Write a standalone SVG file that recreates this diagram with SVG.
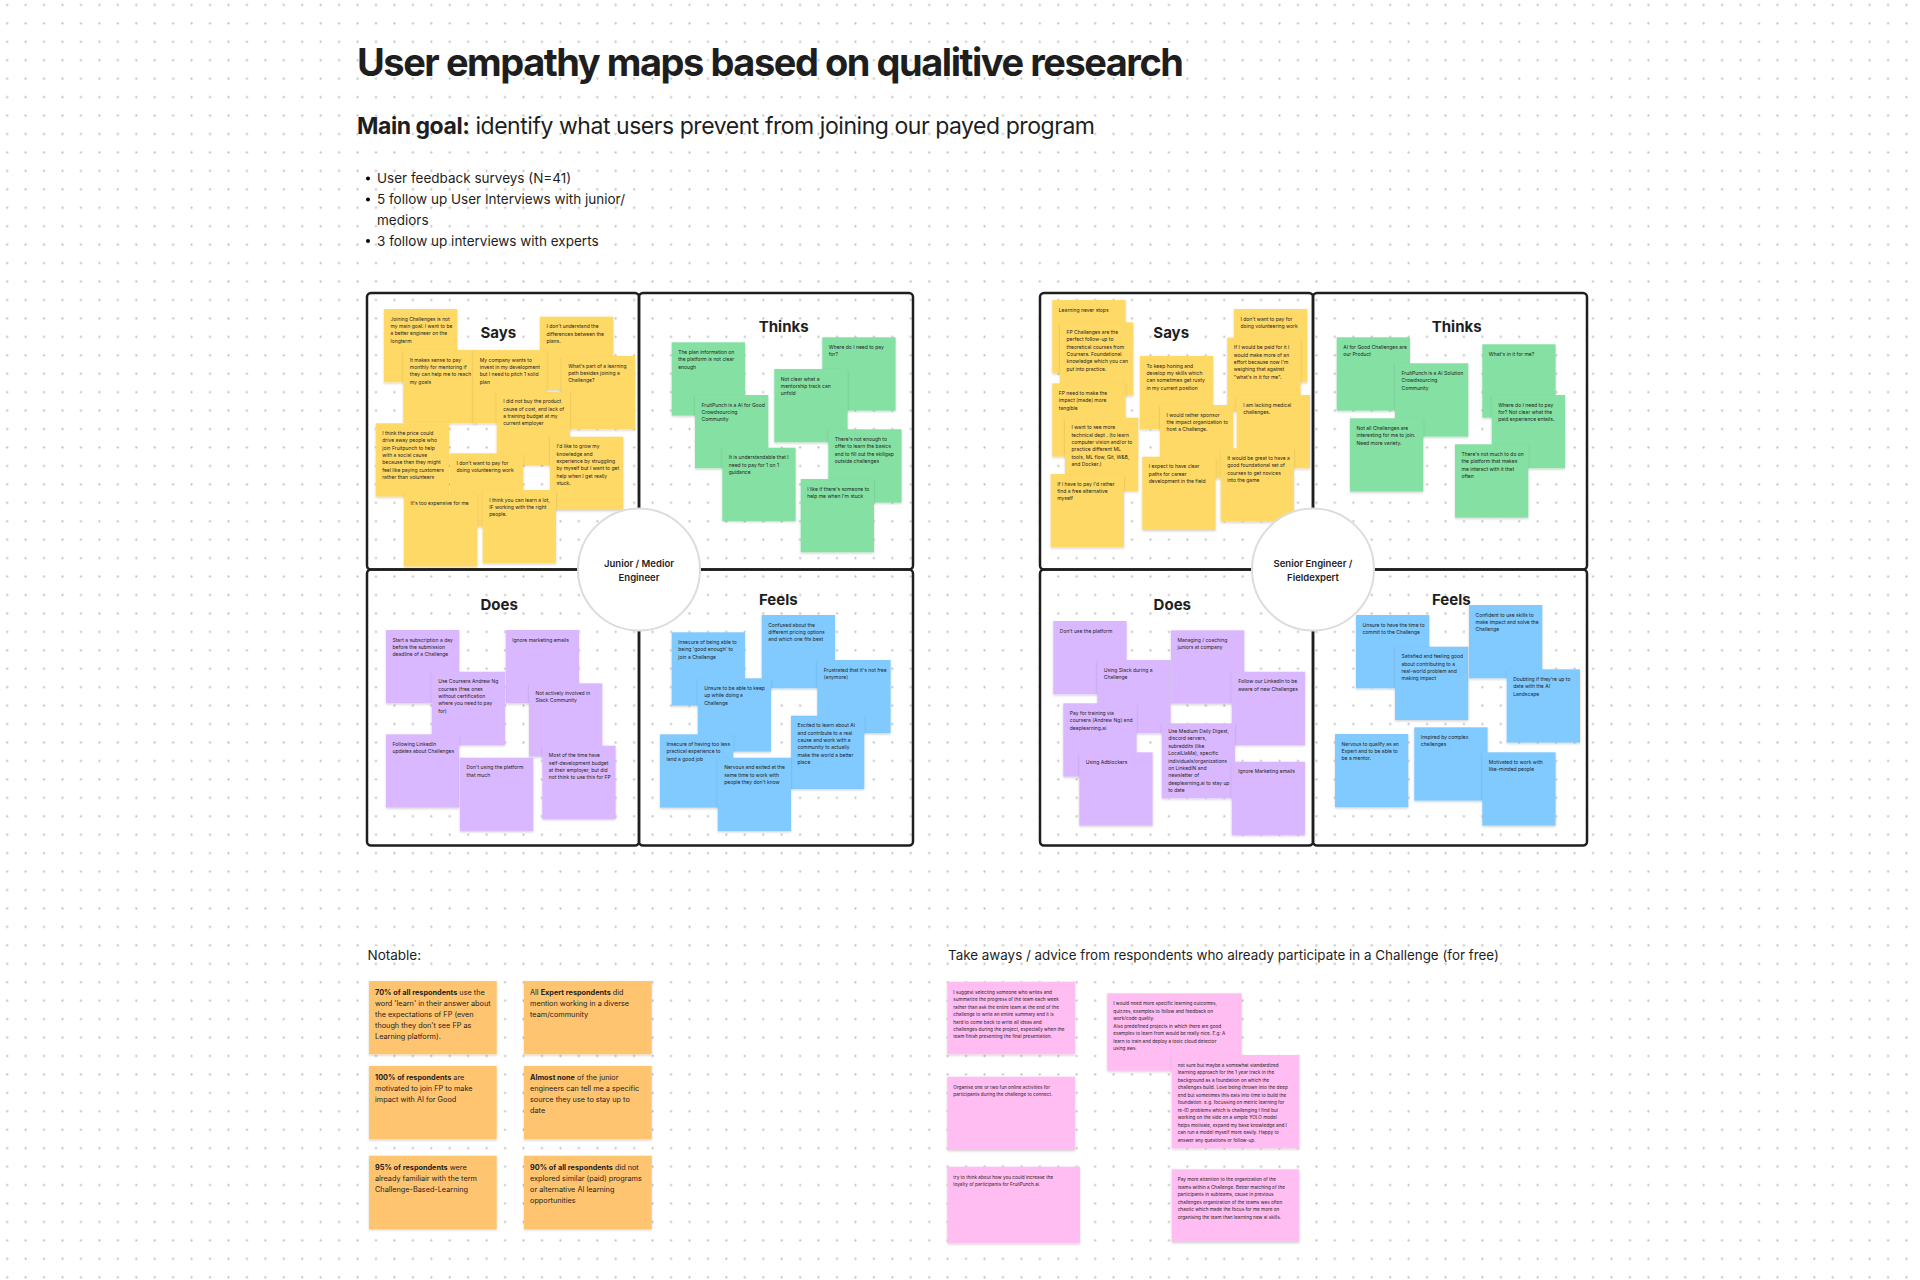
<svg xmlns="http://www.w3.org/2000/svg" width="1920" height="1280" viewBox="0 0 1920 1280">
<defs>
<pattern id="dots" x="-2.02" y="-4.26" width="18.44" height="18.44" patternUnits="userSpaceOnUse"><circle cx="9.22" cy="9.22" r="1.1" fill="#bfbfbf"/></pattern>
<filter id="sh" x="-10%" y="-10%" width="130%" height="140%"><feDropShadow dx="0" dy="1.2" stdDeviation="1.2" flood-color="#000" flood-opacity="0.18"/></filter>
</defs>
<style>
text{font-family:Inter,"Noto Sans","Liberation Sans",sans-serif;fill:#1e1e1e}
.t{font-size:5px}
.n{font-size:7.3px}
.k2{font-size:4.7px}
.y{fill:#FFD966;filter:url(#sh)}
.g{fill:#85E0A3;filter:url(#sh)}
.p{fill:#D9B8FF;filter:url(#sh)}
.b{fill:#80CAFF;filter:url(#sh)}
.o{fill:#FFC470;filter:url(#sh)}
.k{fill:#FFBDF2;filter:url(#sh)}
.quad{fill:none;stroke:#1e1e1e;stroke-width:2.5}
.qt{font-size:15px;font-weight:700;text-anchor:middle}
.ct{font-size:9.5px;font-weight:600;text-anchor:middle}
.hub{fill:#fff;stroke:#dcdcdc;stroke-width:2}
.bd{font-weight:700}
</style>
<rect width="1920" height="1280" fill="#fff"/>
<rect width="1920" height="1280" fill="url(#dots)"/>

<g id="header">
<text x="357" y="76" font-size="38" font-weight="700" textLength="827">User empathy maps based on qualitive research</text>
<text x="357" y="133.5" font-size="23" textLength="738"><tspan font-weight="700">Main goal:</tspan> identify what users prevent from joining our payed program</text>
<g font-size="13.5">
<circle cx="368" cy="178.5" r="2"/><text x="377" y="183">User feedback surveys (N=41)</text>
<circle cx="368" cy="199.5" r="2"/><text x="377" y="204">5 follow up User Interviews with junior/</text>
<text x="377" y="224.5">mediors</text>
<circle cx="368" cy="241" r="2"/><text x="377" y="245.5">3 follow up interviews with experts</text>
</g>
</g>

<!-- Junior map -->
<g id="junior-map">
<rect class="quad" x="367" y="293" width="272" height="276.5" rx="4"/>
<rect class="quad" x="639" y="293" width="274" height="276.5" rx="4"/>
<rect class="quad" x="367" y="569.5" width="272" height="276" rx="4"/>
<rect class="quad" x="639" y="569.5" width="274" height="276" rx="4"/>
<text class="qt" x="498.3" y="338">Says</text>
<text class="qt" x="783.7" y="332.4">Thinks</text>
<text class="qt" x="499.2" y="610.4">Does</text>
<text class="qt" x="778.3" y="605.4">Feels</text>
</g>

<g id="js1"><rect class="y" x="384" y="309" width="73.3" height="73.3"/><text class="t" x="390.5" y="320.5"><tspan x="390.5">Joining Challenges is not</tspan><tspan x="390.5" dy="7.4">my main goal: I want to be</tspan><tspan x="390.5" dy="7.4">a better engineer on the</tspan><tspan x="390.5" dy="7.4">longterm</tspan></text></g>
<g id="js2"><rect class="y" x="540" y="316.7" width="73.3" height="73.3"/><text class="t" x="546.5" y="328.2"><tspan x="546.5">I don't understand the</tspan><tspan x="546.5" dy="7.4">differences between the</tspan><tspan x="546.5" dy="7.4">plans.</tspan></text></g>
<g id="js3"><rect class="y" x="403.3" y="350" width="73.3" height="73.3"/><text class="t" x="409.8" y="361.5"><tspan x="409.8">It makes sense to pay</tspan><tspan x="409.8" dy="7.4">monthly for mentoring if</tspan><tspan x="409.8" dy="7.4">they can help me to reach</tspan><tspan x="409.8" dy="7.4">my goals</tspan></text></g>
<g id="js4"><rect class="y" x="473.3" y="350" width="73.3" height="73.3"/><text class="t" x="479.8" y="361.5"><tspan x="479.8">My company wants to</tspan><tspan x="479.8" dy="7.4">invest in my development</tspan><tspan x="479.8" dy="7.4">but I need to pitch 1 solid</tspan><tspan x="479.8" dy="7.4">plan</tspan></text></g>
<g id="js5"><rect class="y" x="561.7" y="356" width="73.3" height="73.3"/><text class="t" x="568.2" y="367.5"><tspan x="568.2">What's part of a learning</tspan><tspan x="568.2" dy="7.4">path besides joining a</tspan><tspan x="568.2" dy="7.4">Challenge?</tspan></text></g>
<g id="js6"><rect class="y" x="496.7" y="391.7" width="73.3" height="73.3"/><text class="t" x="503.2" y="403.2"><tspan x="503.2">I did not buy the product</tspan><tspan x="503.2" dy="7.4">cause of cost, and lack of</tspan><tspan x="503.2" dy="7.4">a training budget at my</tspan><tspan x="503.2" dy="7.4">current employer</tspan></text></g>
<g id="js7"><rect class="y" x="375.7" y="423.3" width="73.3" height="73.3"/><text class="t" x="382.2" y="434.8"><tspan x="382.2">I think the price could</tspan><tspan x="382.2" dy="7.4">drive away people who</tspan><tspan x="382.2" dy="7.4">join Fruitpunch to help</tspan><tspan x="382.2" dy="7.4">with a social cause</tspan><tspan x="382.2" dy="7.4">because then they might</tspan><tspan x="382.2" dy="7.4">feel like paying customers</tspan><tspan x="382.2" dy="7.4">rather than volunteers</tspan></text></g>
<g id="js8"><rect class="y" x="450" y="453.3" width="73.3" height="73.3"/><text class="t" x="456.5" y="464.8"><tspan x="456.5">I don't want to pay for</tspan><tspan x="456.5" dy="7.4">doing volunteering work</tspan></text></g>
<g id="js9"><rect class="y" x="550" y="436.7" width="73.3" height="73.3"/><text class="t" x="556.5" y="448.2"><tspan x="556.5">I'd like to grow my</tspan><tspan x="556.5" dy="7.4">knowledge and</tspan><tspan x="556.5" dy="7.4">experience by struggling</tspan><tspan x="556.5" dy="7.4">by myself but I want to get</tspan><tspan x="556.5" dy="7.4">help when I get really</tspan><tspan x="556.5" dy="7.4">stuck.</tspan></text></g>
<g id="js10"><rect class="y" x="404" y="493.3" width="73.3" height="73.3"/><text class="t" x="410.5" y="504.8">It's too expensive for me</text></g>
<g id="js11"><rect class="y" x="482.7" y="490" width="73.3" height="73.3"/><text class="t" x="489.2" y="501.5"><tspan x="489.2">I think you can learn a lot,</tspan><tspan x="489.2" dy="7.4">IF working with the right</tspan><tspan x="489.2" dy="7.4">people.</tspan></text></g>

<g id="jt1"><rect class="g" x="671.7" y="342.3" width="73.3" height="73.3"/><text class="t" x="678.2" y="353.8"><tspan x="678.2">The plan information on</tspan><tspan x="678.2" dy="7.4">the platform is not clear</tspan><tspan x="678.2" dy="7.4">enough</tspan></text></g>
<g id="jt4"><rect class="g" x="695" y="395" width="73.3" height="73.3"/><text class="t" x="701.5" y="406.5"><tspan x="701.5">FruitPunch is a AI for Good</tspan><tspan x="701.5" dy="7.4">Crowdsourcing</tspan><tspan x="701.5" dy="7.4">Community</tspan></text></g>
<g id="jt6"><rect class="g" x="722.3" y="447.7" width="73.3" height="73.3"/><text class="t" x="728.8" y="459.2"><tspan x="728.8">It is understandable that I</tspan><tspan x="728.8" dy="7.4">need to pay for 1 on 1</tspan><tspan x="728.8" dy="7.4">guidance</tspan></text></g>
<g id="jt2"><rect class="g" x="822.3" y="337.3" width="73.3" height="73.3"/><text class="t" x="828.8" y="348.8"><tspan x="828.8">Where do I need to pay</tspan><tspan x="828.8" dy="7.4">for?</tspan></text></g>
<g id="jt3"><rect class="g" x="774.3" y="369" width="73.3" height="73.3"/><text class="t" x="780.8" y="380.5"><tspan x="780.8">Not clear what a</tspan><tspan x="780.8" dy="7.4">mentorship track can</tspan><tspan x="780.8" dy="7.4">unfold</tspan></text></g>
<g id="jt5"><rect class="g" x="828.3" y="429.3" width="73.3" height="73.3"/><text class="t" x="834.8" y="440.8"><tspan x="834.8">There's not enough to</tspan><tspan x="834.8" dy="7.4">offer to learn the basics</tspan><tspan x="834.8" dy="7.4">and to fill out the skillgap</tspan><tspan x="834.8" dy="7.4">outside challenges</tspan></text></g>
<g id="jt7"><rect class="g" x="800.7" y="479" width="73.3" height="73.3"/><text class="t" x="807.2" y="490.5"><tspan x="807.2">I like if there's someone to</tspan><tspan x="807.2" dy="7.4">help me when I'm stuck</tspan></text></g>

<g id="jd1"><rect class="p" x="386" y="630" width="73.3" height="73.3"/><text class="t" x="392.5" y="641.5"><tspan x="392.5">Start a subscription a day</tspan><tspan x="392.5" dy="7.4">before the submission</tspan><tspan x="392.5" dy="7.4">deadline of a Challenge</tspan></text></g>
<g id="jd2"><rect class="p" x="505.7" y="630" width="73.3" height="73.3"/><text class="t" x="512.2" y="641.5">Ignore marketing emails</text></g>
<g id="jd3"><rect class="p" x="431.7" y="671.7" width="73.3" height="73.3"/><text class="t" x="438.2" y="683.2"><tspan x="438.2">Use Coursera Andrew Ng</tspan><tspan x="438.2" dy="7.4">courses (free ones</tspan><tspan x="438.2" dy="7.4">without certification</tspan><tspan x="438.2" dy="7.4">where you need to pay</tspan><tspan x="438.2" dy="7.4">for)</tspan></text></g>
<g id="jd4"><rect class="p" x="529" y="683.3" width="73.3" height="73.3"/><text class="t" x="535.5" y="694.8"><tspan x="535.5">Not actively involved in</tspan><tspan x="535.5" dy="7.4">Slack Community</tspan></text></g>
<g id="jd5"><rect class="p" x="386" y="734.3" width="73.3" height="73.3"/><text class="t" x="392.5" y="745.8"><tspan x="392.5">Following LinkedIn</tspan><tspan x="392.5" dy="7.4">updates about Challenges</tspan></text></g>
<g id="jd6"><rect class="p" x="460" y="757.7" width="73.3" height="73.3"/><text class="t" x="466.5" y="769.2"><tspan x="466.5">Don't using the platform</tspan><tspan x="466.5" dy="7.4">that much</tspan></text></g>
<g id="jd7"><rect class="p" x="542.3" y="745.7" width="73.3" height="73.3"/><text class="t" x="548.8" y="757.2"><tspan x="548.8">Most of the time have</tspan><tspan x="548.8" dy="7.4">self-development budget</tspan><tspan x="548.8" dy="7.4">at their employer, but did</tspan><tspan x="548.8" dy="7.4">not think to use this for FP</tspan></text></g>

<g id="jf1"><rect class="b" x="671.7" y="632.3" width="73.3" height="73.3"/><text class="t" x="678.2" y="643.8"><tspan x="678.2">Insecure of being able to</tspan><tspan x="678.2" dy="7.4">being 'good enough' to</tspan><tspan x="678.2" dy="7.4">join a Challenge</tspan></text></g>
<g id="jf2"><rect class="b" x="761.7" y="615" width="73.3" height="73.3"/><text class="t" x="768.2" y="626.5"><tspan x="768.2">Confused about the</tspan><tspan x="768.2" dy="7.4">different pricing options</tspan><tspan x="768.2" dy="7.4">and which one fits best</tspan></text></g>
<g id="jf4"><rect class="b" x="697.7" y="678.3" width="73.3" height="73.3"/><text class="t" x="704.2" y="689.8"><tspan x="704.2">Unsure to be able to keep</tspan><tspan x="704.2" dy="7.4">up while doing a</tspan><tspan x="704.2" dy="7.4">Challenge</tspan></text></g>
<g id="jf3"><rect class="b" x="817.3" y="660" width="73.3" height="73.3"/><text class="t" x="823.8" y="671.5"><tspan x="823.8">Frustrated that it's not free</tspan><tspan x="823.8" dy="7.4">(anymore)</tspan></text></g>
<g id="jf5"><rect class="b" x="791" y="715.7" width="73.3" height="73.3"/><text class="t" x="797.5" y="727.2"><tspan x="797.5">Excited to learn about AI</tspan><tspan x="797.5" dy="7.4">and contribute to a real</tspan><tspan x="797.5" dy="7.4">cause and work with a</tspan><tspan x="797.5" dy="7.4">community to actually</tspan><tspan x="797.5" dy="7.4">make the world a better</tspan><tspan x="797.5" dy="7.4">place</tspan></text></g>
<g id="jf6"><rect class="b" x="660" y="734.3" width="73.3" height="73.3"/><text class="t" x="666.5" y="745.8"><tspan x="666.5">Insecure of having too less</tspan><tspan x="666.5" dy="7.4">practical experience to</tspan><tspan x="666.5" dy="7.4">land a good job</tspan></text></g>
<g id="jf7"><rect class="b" x="717.7" y="757.7" width="73.3" height="73.3"/><text class="t" x="724.2" y="769.2"><tspan x="724.2">Nervous and exited at the</tspan><tspan x="724.2" dy="7.4">same time to work with</tspan><tspan x="724.2" dy="7.4">people they don't know</tspan></text></g>

<g id="junior-hub"><circle class="hub" cx="639" cy="569.5" r="61"/><text class="ct" x="639" y="566.5">Junior / Medior</text><text class="ct" x="639" y="581">Engineer</text></g>

<!-- Senior map -->
<g id="senior-map">
<rect class="quad" x="1040" y="293" width="273" height="276.5" rx="4"/>
<rect class="quad" x="1313" y="293" width="274" height="276.5" rx="4"/>
<rect class="quad" x="1040" y="569.5" width="273" height="276" rx="4"/>
<rect class="quad" x="1313" y="569.5" width="274" height="276" rx="4"/>
<text class="qt" x="1171.2" y="338">Says</text>
<text class="qt" x="1456.7" y="332.4">Thinks</text>
<text class="qt" x="1172.3" y="610.4">Does</text>
<text class="qt" x="1451.3" y="605.4">Feels</text>
</g>

<g id="ss1"><rect class="y" x="1052.3" y="300" width="73.3" height="73.3"/><text class="t" x="1058.8" y="311.5">Learning never stops</text></g>
<g id="ss2"><rect class="y" x="1060" y="322.3" width="73.3" height="73.3"/><text class="t" x="1066.5" y="333.8"><tspan x="1066.5">FP Challenges are the</tspan><tspan x="1066.5" dy="7.4">perfect follow-up to</tspan><tspan x="1066.5" dy="7.4">theoretical courses from</tspan><tspan x="1066.5" dy="7.4">Coursera. Foundational</tspan><tspan x="1066.5" dy="7.4">knowledge which you can</tspan><tspan x="1066.5" dy="7.4">put into practice.</tspan></text></g>
<g id="ss3"><rect class="y" x="1234" y="309" width="73.3" height="73.3"/><text class="t" x="1240.5" y="320.5"><tspan x="1240.5">I don't want to pay for</tspan><tspan x="1240.5" dy="7.4">doing volunteering work</tspan></text></g>
<g id="ss4"><rect class="y" x="1227.3" y="337.7" width="73.3" height="73.3"/><text class="t" x="1233.8" y="349.2"><tspan x="1233.8">If I would be paid for it I</tspan><tspan x="1233.8" dy="7.4">would make more of an</tspan><tspan x="1233.8" dy="7.4">effort because now I'm</tspan><tspan x="1233.8" dy="7.4">weighing that against</tspan><tspan x="1233.8" dy="7.4">"what's in it for me".</tspan></text></g>
<g id="ss5"><rect class="y" x="1140" y="356" width="73.3" height="73.3"/><text class="t" x="1146.5" y="367.5"><tspan x="1146.5">To keep honing and</tspan><tspan x="1146.5" dy="7.4">develop my skills which</tspan><tspan x="1146.5" dy="7.4">can sometimes get rusty</tspan><tspan x="1146.5" dy="7.4">in my current position</tspan></text></g>
<g id="ss6"><rect class="y" x="1052.3" y="383.3" width="73.3" height="73.3"/><text class="t" x="1058.8" y="394.8"><tspan x="1058.8">FP need to make the</tspan><tspan x="1058.8" dy="7.4">impact (made) more</tspan><tspan x="1058.8" dy="7.4">tangible</tspan></text></g>
<g id="ss7"><rect class="y" x="1236.7" y="395" width="73.3" height="73.3"/><text class="t" x="1243.2" y="406.5"><tspan x="1243.2">I am lacking medical</tspan><tspan x="1243.2" dy="7.4">challenges.</tspan></text></g>
<g id="ss8"><rect class="y" x="1160" y="405" width="73.3" height="73.3"/><text class="t" x="1166.5" y="416.5"><tspan x="1166.5">I would rather sponsor</tspan><tspan x="1166.5" dy="7.4">the impact organization to</tspan><tspan x="1166.5" dy="7.4">host a Challenge.</tspan></text></g>
<g id="ss9"><rect class="y" x="1065" y="417.7" width="73.3" height="73.3"/><text class="t" x="1071.5" y="429.2"><tspan x="1071.5">I want to see more</tspan><tspan x="1071.5" dy="7.4">technical dept . (to learn</tspan><tspan x="1071.5" dy="7.4">computer vision and/or to</tspan><tspan x="1071.5" dy="7.4">practice different ML</tspan><tspan x="1071.5" dy="7.4">tools, ML flow, Git, W&amp;B,</tspan><tspan x="1071.5" dy="7.4">and Docker.)</tspan></text></g>
<g id="ss10"><rect class="y" x="1220.7" y="448.3" width="73.3" height="73.3"/><text class="t" x="1227.2" y="459.8"><tspan x="1227.2">It would be great to have a</tspan><tspan x="1227.2" dy="7.4">good foundational set of</tspan><tspan x="1227.2" dy="7.4">courses to get novices</tspan><tspan x="1227.2" dy="7.4">into the game</tspan></text></g>
<g id="ss11"><rect class="y" x="1142.3" y="456.7" width="73.3" height="73.3"/><text class="t" x="1148.8" y="468.2"><tspan x="1148.8">I expect to have clear</tspan><tspan x="1148.8" dy="7.4">paths for career</tspan><tspan x="1148.8" dy="7.4">development in the field</tspan></text></g>
<g id="ss12"><rect class="y" x="1050.7" y="474" width="73.3" height="73.3"/><text class="t" x="1057.2" y="485.5"><tspan x="1057.2">If I have to pay I'd rather</tspan><tspan x="1057.2" dy="7.4">find a free alternative</tspan><tspan x="1057.2" dy="7.4">myself</tspan></text></g>

<g id="st1"><rect class="g" x="1336.7" y="337.3" width="73.3" height="73.3"/><text class="t" x="1343.2" y="348.8"><tspan x="1343.2">AI for Good Challenges are</tspan><tspan x="1343.2" dy="7.4">our Product</tspan></text></g>
<g id="st3"><rect class="g" x="1395" y="363.3" width="73.3" height="73.3"/><text class="t" x="1401.5" y="374.8"><tspan x="1401.5">FruitPunch is a AI Solution</tspan><tspan x="1401.5" dy="7.4">Crowdsourcing</tspan><tspan x="1401.5" dy="7.4">Community</tspan></text></g>
<g id="st5"><rect class="g" x="1350" y="418.3" width="73.3" height="73.3"/><text class="t" x="1356.5" y="429.8"><tspan x="1356.5">Not all Challenges are</tspan><tspan x="1356.5" dy="7.4">interesting for me to join.</tspan><tspan x="1356.5" dy="7.4">Need more variety.</tspan></text></g>
<g id="st2"><rect class="g" x="1482.3" y="344.3" width="73.3" height="73.3"/><text class="t" x="1488.8" y="355.8">What's in it for me?</text></g>
<g id="st4"><rect class="g" x="1491.7" y="395" width="73.3" height="73.3"/><text class="t" x="1498.2" y="406.5"><tspan x="1498.2">Where do I need to pay</tspan><tspan x="1498.2" dy="7.4">for? Not clear what the</tspan><tspan x="1498.2" dy="7.4">paid experience entails.</tspan></text></g>
<g id="st6"><rect class="g" x="1455" y="444.3" width="73.3" height="73.3"/><text class="t" x="1461.5" y="455.8"><tspan x="1461.5">There's not much to do on</tspan><tspan x="1461.5" dy="7.4">the platform that makes</tspan><tspan x="1461.5" dy="7.4">me interact with it that</tspan><tspan x="1461.5" dy="7.4">often</tspan></text></g>

<g id="sd1"><rect class="p" x="1053.3" y="621" width="73.3" height="73.3"/><text class="t" x="1059.8" y="632.5">Don't use the platform</text></g>
<g id="sd3"><rect class="p" x="1097.3" y="660" width="73.3" height="73.3"/><text class="t" x="1103.8" y="671.5"><tspan x="1103.8">Using Slack during a</tspan><tspan x="1103.8" dy="7.4">Challenge</tspan></text></g>
<g id="sd2"><rect class="p" x="1171" y="630.3" width="73.3" height="73.3"/><text class="t" x="1177.5" y="641.8"><tspan x="1177.5">Managing / coaching</tspan><tspan x="1177.5" dy="7.4">juniors at company</tspan></text></g>
<g id="sd4"><rect class="p" x="1231.7" y="671.7" width="73.3" height="73.3"/><text class="t" x="1238.2" y="683.2"><tspan x="1238.2">Follow our LinkedIn to be</tspan><tspan x="1238.2" dy="7.4">aware of new Challenges</tspan></text></g>
<g id="sd5"><rect class="p" x="1063.3" y="703.3" width="73.3" height="73.3"/><text class="t" x="1069.8" y="714.8"><tspan x="1069.8">Pay for training via</tspan><tspan x="1069.8" dy="7.4">coursera (Andrew Ng) and</tspan><tspan x="1069.8" dy="7.4">deeplearning.ai</tspan></text></g>
<g id="sd6"><rect class="p" x="1161.7" y="723.3" width="73.3" height="75"/><text class="t" x="1168.2" y="733"><tspan x="1168.2">Use Medium Daily Digest,</tspan><tspan x="1168.2" dy="7.4">discord servers,</tspan><tspan x="1168.2" dy="7.4">subreddits (like</tspan><tspan x="1168.2" dy="7.4">LocalLlaMa), specific</tspan><tspan x="1168.2" dy="7.4">individuals/organizations</tspan><tspan x="1168.2" dy="7.4">on LinkedIN and</tspan><tspan x="1168.2" dy="7.4">newsletter of</tspan><tspan x="1168.2" dy="7.4">deeplearning.ai to stay up</tspan><tspan x="1168.2" dy="7.4">to date</tspan></text></g>
<g id="sd7"><rect class="p" x="1079.3" y="752.3" width="73.3" height="73.3"/><text class="t" x="1085.8" y="763.8">Using Adblockers</text></g>
<g id="sd8"><rect class="p" x="1231.7" y="761.7" width="73.3" height="73.3"/><text class="t" x="1238.2" y="773.2">Ignore Marketing emails</text></g>

<g id="sf1"><rect class="b" x="1356" y="615" width="73.3" height="73.3"/><text class="t" x="1362.5" y="626.5"><tspan x="1362.5">Unsure to have the time to</tspan><tspan x="1362.5" dy="7.4">commit to the Challenge</tspan></text></g>
<g id="sf3"><rect class="b" x="1395" y="646.7" width="73.3" height="73.3"/><text class="t" x="1401.5" y="658.2"><tspan x="1401.5">Satisfied and feeling good</tspan><tspan x="1401.5" dy="7.4">about contributing to a</tspan><tspan x="1401.5" dy="7.4">real-world problem and</tspan><tspan x="1401.5" dy="7.4">making impact</tspan></text></g>
<g id="sf2"><rect class="b" x="1469" y="605" width="73.3" height="73.3"/><text class="t" x="1475.5" y="616.5"><tspan x="1475.5">Confident to use skills to</tspan><tspan x="1475.5" dy="7.4">make impact and solve the</tspan><tspan x="1475.5" dy="7.4">Challenge</tspan></text></g>
<g id="sf4"><rect class="b" x="1506.7" y="669.3" width="73.3" height="73.3"/><text class="t" x="1513.2" y="680.8"><tspan x="1513.2">Doubting if they're up to</tspan><tspan x="1513.2" dy="7.4">date with the AI</tspan><tspan x="1513.2" dy="7.4">Landscape</tspan></text></g>
<g id="sf5"><rect class="b" x="1335" y="734" width="73.3" height="73.3"/><text class="t" x="1341.5" y="745.5"><tspan x="1341.5">Nervous to qualify as an</tspan><tspan x="1341.5" dy="7.4">Expert and to be able to</tspan><tspan x="1341.5" dy="7.4">be a mentor.</tspan></text></g>
<g id="sf6"><rect class="b" x="1414.3" y="727.3" width="73.3" height="73.3"/><text class="t" x="1420.8" y="738.8"><tspan x="1420.8">Inspired by complex</tspan><tspan x="1420.8" dy="7.4">challenges</tspan></text></g>
<g id="sf7"><rect class="b" x="1482.3" y="752.3" width="73.3" height="73.3"/><text class="t" x="1488.8" y="763.8"><tspan x="1488.8">Motivated to work with</tspan><tspan x="1488.8" dy="7.4">like-minded people</tspan></text></g>

<g id="senior-hub"><circle class="hub" cx="1313" cy="569.5" r="61"/><text class="ct" x="1313" y="566.5">Senior Engineer /</text><text class="ct" x="1313" y="581">Fieldexpert</text></g>

<!-- Notable -->
<g id="notable">
<text x="367.5" y="960" font-size="13.5">Notable:</text>
<g id="n1"><rect class="o" x="369" y="981" width="127.7" height="73.3"/><text class="n" x="375" y="995.3"><tspan x="375"><tspan class="bd">70% of all respondents</tspan> use the</tspan><tspan x="375" dy="11">word 'learn' in their answer about</tspan><tspan x="375" dy="11">the expectations of FP (even</tspan><tspan x="375" dy="11">though they don't see FP as</tspan><tspan x="375" dy="11">Learning platform).</tspan></text></g>
<g id="n2"><rect class="o" x="524" y="981" width="127.7" height="73.3"/><text class="n" x="530" y="995.3"><tspan x="530">All <tspan class="bd">Expert respondents</tspan> did</tspan><tspan x="530" dy="11">mention working in a diverse</tspan><tspan x="530" dy="11">team/community</tspan></text></g>
<g id="n3"><rect class="o" x="369" y="1066" width="127.7" height="73.3"/><text class="n" x="375" y="1080.3"><tspan x="375"><tspan class="bd">100% of respondents</tspan> are</tspan><tspan x="375" dy="11">motivated to join FP to make</tspan><tspan x="375" dy="11">impact with AI for Good</tspan></text></g>
<g id="n4"><rect class="o" x="524" y="1066" width="127.7" height="73.3"/><text class="n" x="530" y="1080.3"><tspan x="530"><tspan class="bd">Almost none</tspan> of the junior</tspan><tspan x="530" dy="11">engineers can tell me a specific</tspan><tspan x="530" dy="11">source they use to stay up to</tspan><tspan x="530" dy="11">date</tspan></text></g>
<g id="n5"><rect class="o" x="369" y="1155.7" width="127.7" height="73.3"/><text class="n" x="375" y="1170"><tspan x="375"><tspan class="bd">95% of respondents</tspan> were</tspan><tspan x="375" dy="11">already familiair with the term</tspan><tspan x="375" dy="11">Challenge-Based-Learning</tspan></text></g>
<g id="n6"><rect class="o" x="524" y="1155.7" width="127.7" height="73.3"/><text class="n" x="530" y="1170"><tspan x="530"><tspan class="bd">90% of all respondents</tspan> did not</tspan><tspan x="530" dy="11">explored similar (paid) programs</tspan><tspan x="530" dy="11">or alternative AI learning</tspan><tspan x="530" dy="11">opportunities</tspan></text></g>
</g>

<!-- Take aways -->
<g id="takeaways">
<text x="948" y="960" font-size="13.4">Take aways / advice from respondents who already participate in a Challenge (for free)</text>
<g id="p1"><rect class="k" x="947.3" y="981.7" width="127.7" height="72.6"/><text class="k2" x="953.3" y="993.7"><tspan x="953.3">I suggest selecting someone who writes and</tspan><tspan x="953.3" dy="7.45">summarize the progress of the team each week</tspan><tspan x="953.3" dy="7.45">rather than ask the entire team at the end of the</tspan><tspan x="953.3" dy="7.45">challenge to write an entire summary and it is</tspan><tspan x="953.3" dy="7.45">hard to come back to write all ideas and</tspan><tspan x="953.3" dy="7.45">challenges during the project, especially when the</tspan><tspan x="953.3" dy="7.45">team finish presenting the final presentation.</tspan></text></g>
<g id="p2"><rect class="k" x="1107.3" y="993.3" width="134.4" height="77.4"/><text class="k2" x="1113.3" y="1005.3"><tspan x="1113.3">I would need more specific learning outcomes,</tspan><tspan x="1113.3" dy="7.45">quizzes, examples to follow and feedback on</tspan><tspan x="1113.3" dy="7.45">work/code quality.</tspan><tspan x="1113.3" dy="7.45">Also predefined projects in which there are good</tspan><tspan x="1113.3" dy="7.45">examples to learn from would be really nice. E.g: A</tspan><tspan x="1113.3" dy="7.45">learn to train and deploy a toxic cloud detector</tspan><tspan x="1113.3" dy="7.45">using aws.</tspan></text></g>
<g id="p4"><rect class="k" x="947.3" y="1076.7" width="127.7" height="73.3"/><text class="k2" x="953.3" y="1088.7"><tspan x="953.3">Organise one or two fun online activities for</tspan><tspan x="953.3" dy="7.45">participants during the challenge to connect.</tspan></text></g>
<g id="p5"><rect class="k" x="947.3" y="1166.7" width="132.7" height="76.6"/><text class="k2" x="953.3" y="1178.7"><tspan x="953.3">try to think about how you could increase the</tspan><tspan x="953.3" dy="7.45">loyalty of participants for FruitPunch.ai.</tspan></text></g>
<g id="p3"><rect class="k" x="1171.7" y="1055" width="127.6" height="93.3"/><text class="k2" x="1177.7" y="1067"><tspan x="1177.7">not sure but maybe a somewhat standardized</tspan><tspan x="1177.7" dy="7.45">learning approach for the 1 year track in the</tspan><tspan x="1177.7" dy="7.45">background as a foundation on which the</tspan><tspan x="1177.7" dy="7.45">challenges build. Love being thrown into the deep</tspan><tspan x="1177.7" dy="7.45">end but sometimes this eats into time to build the</tspan><tspan x="1177.7" dy="7.45">foundation. e.g. focussing on metric learning for</tspan><tspan x="1177.7" dy="7.45">re-ID problems which is challenging I find but</tspan><tspan x="1177.7" dy="7.45">working on the side on a simple YOLO model</tspan><tspan x="1177.7" dy="7.45">helps motivate, expand my base knowledge and I</tspan><tspan x="1177.7" dy="7.45">can run a model myself more easily. Happy to</tspan><tspan x="1177.7" dy="7.45">answer any questions or follow-up.</tspan></text></g>
<g id="p6"><rect class="k" x="1171.7" y="1169.3" width="127.6" height="72.7"/><text class="k2" x="1177.7" y="1181.3"><tspan x="1177.7">Pay more attention to the organization of the</tspan><tspan x="1177.7" dy="7.45">teams within a Challenge. Better matching of the</tspan><tspan x="1177.7" dy="7.45">participants in subteams, cause in previous</tspan><tspan x="1177.7" dy="7.45">challenges organization of the teams was often</tspan><tspan x="1177.7" dy="7.45">chaotic which made the focus for me more on</tspan><tspan x="1177.7" dy="7.45">organising the team than learning new ai skills.</tspan></text></g>
</g>
</svg>
